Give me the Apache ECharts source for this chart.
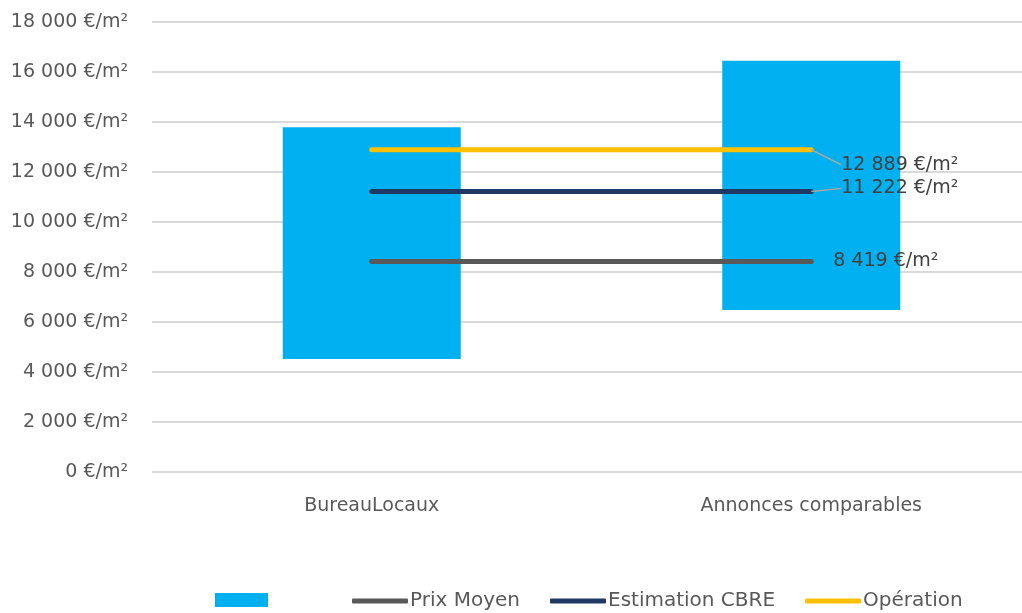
<!DOCTYPE html>
<html>
<head>
<meta charset="utf-8">
<script src="https://cdn.jsdelivr.net/npm/echarts@6/dist/echarts.min.js"></script>
<style>
html,body{margin:0;padding:0;background:#fff;overflow:hidden;width:1022px;height:613px;}
#chart{width:1031px;height:613px;}
</style>
</head>
<body>
<div id="chart"></div>
<script>
var categories = ['BureauLocaux', 'Annonces comparables'];
var rangeLow = [4520, 6480];
var rangeHigh = [13790, 16450];
var prixMoyen = [8419, 8419];
var estimationCBRE = [11222, 11222];
var operation = [12889, 12889];
var yTicks = [0, 2000, 4000, 6000, 8000, 10000, 12000, 14000, 16000, 18000];

var FONT = 'DejaVu Sans';
function fmt(v) {
  return String(v).replace(/\B(?=(\d{3})+(?!\d))/g, ' ') + ' €/m²';
}

function lineSeries(name, values, color, dist, dy) {
  var data = values.map(function (v, i) {
    if (i === values.length - 1) {
      return {
        value: v,
        label: {
          show: true, position: 'right', distance: dist,
          formatter: function (p) { return fmt(p.value); },
          color: '#404040', fontFamily: FONT, fontSize: 19
        }
      };
    }
    return v;
  });
  return {
    name: name, type: 'line', data: data, symbol: 'circle', symbolSize: 0.01,
    showSymbol: true, z: 5,
    lineStyle: { color: color, width: 5, cap: 'round' },
    itemStyle: { color: color },
    labelLayout: dy !== 0 ? { dy: dy } : null,
    labelLine: dy !== 0 ? { show: true, lineStyle: { color: '#a6a6a6', width: 1.5 } } : { show: false },
    emphasis: { disabled: true }
  };
}

var chart = echarts.init(document.getElementById('chart'));
chart.setOption({
  animation: false,
  backgroundColor: '#fff',
  grid: { left: 152, top: 22, bottom: 141, right: 0 },
  xAxis: {
    type: 'category', data: categories,
    axisLine: { show: false }, axisTick: { show: false },
    axisLabel: { color: '#595959', fontFamily: FONT, fontSize: 19, margin: 25 }
  },
  yAxis: {
    type: 'value', min: yTicks[0], max: yTicks[yTicks.length - 1], interval: yTicks[1] - yTicks[0],
    axisLine: { show: false }, axisTick: { show: false },
    splitLine: { lineStyle: { color: '#d9d9d9', width: 2 } },
    axisLabel: { color: '#595959', fontFamily: FONT, fontSize: 19, margin: 24, formatter: fmt }
  },
  legend: [
    {
      data: [{ name: ' ', icon: 'rect' }], left: 210, top: 588, itemWidth: 53, itemHeight: 14, itemGap: 0,
      textStyle: { fontFamily: FONT, fontSize: 10, color: '#595959' }
    },
    {
      data: [
        { name: 'Prix Moyen', icon: 'roundRect' },
        { name: 'Estimation CBRE', icon: 'roundRect' },
        { name: 'Opération', icon: 'roundRect' }
      ],
      left: 347, top: 586, itemWidth: 56, itemHeight: 5, itemGap: 30,
      textStyle: { fontFamily: FONT, fontSize: 20, color: '#595959', padding: [0, 0, 0, -3] }
    }
  ],
  series: [
    {
      name: 'base', type: 'bar', stack: 'r', data: rangeLow,
      itemStyle: { color: 'rgba(0,0,0,0)' }, barWidth: 178, silent: true
    },
    {
      name: ' ', type: 'bar', stack: 'r',
      data: rangeHigh.map(function (h, i) { return h - rangeLow[i]; }),
      itemStyle: { color: '#00B0F0' }, barWidth: 178
    },
    lineSeries('Prix Moyen', prixMoyen, '#595959', 22, 0),
    lineSeries('Estimation CBRE', estimationCBRE, '#203864', 30, -3),
    lineSeries('Opération', operation, '#FFC000', 30, 15)
  ]
});
</script>
</body>
</html>
